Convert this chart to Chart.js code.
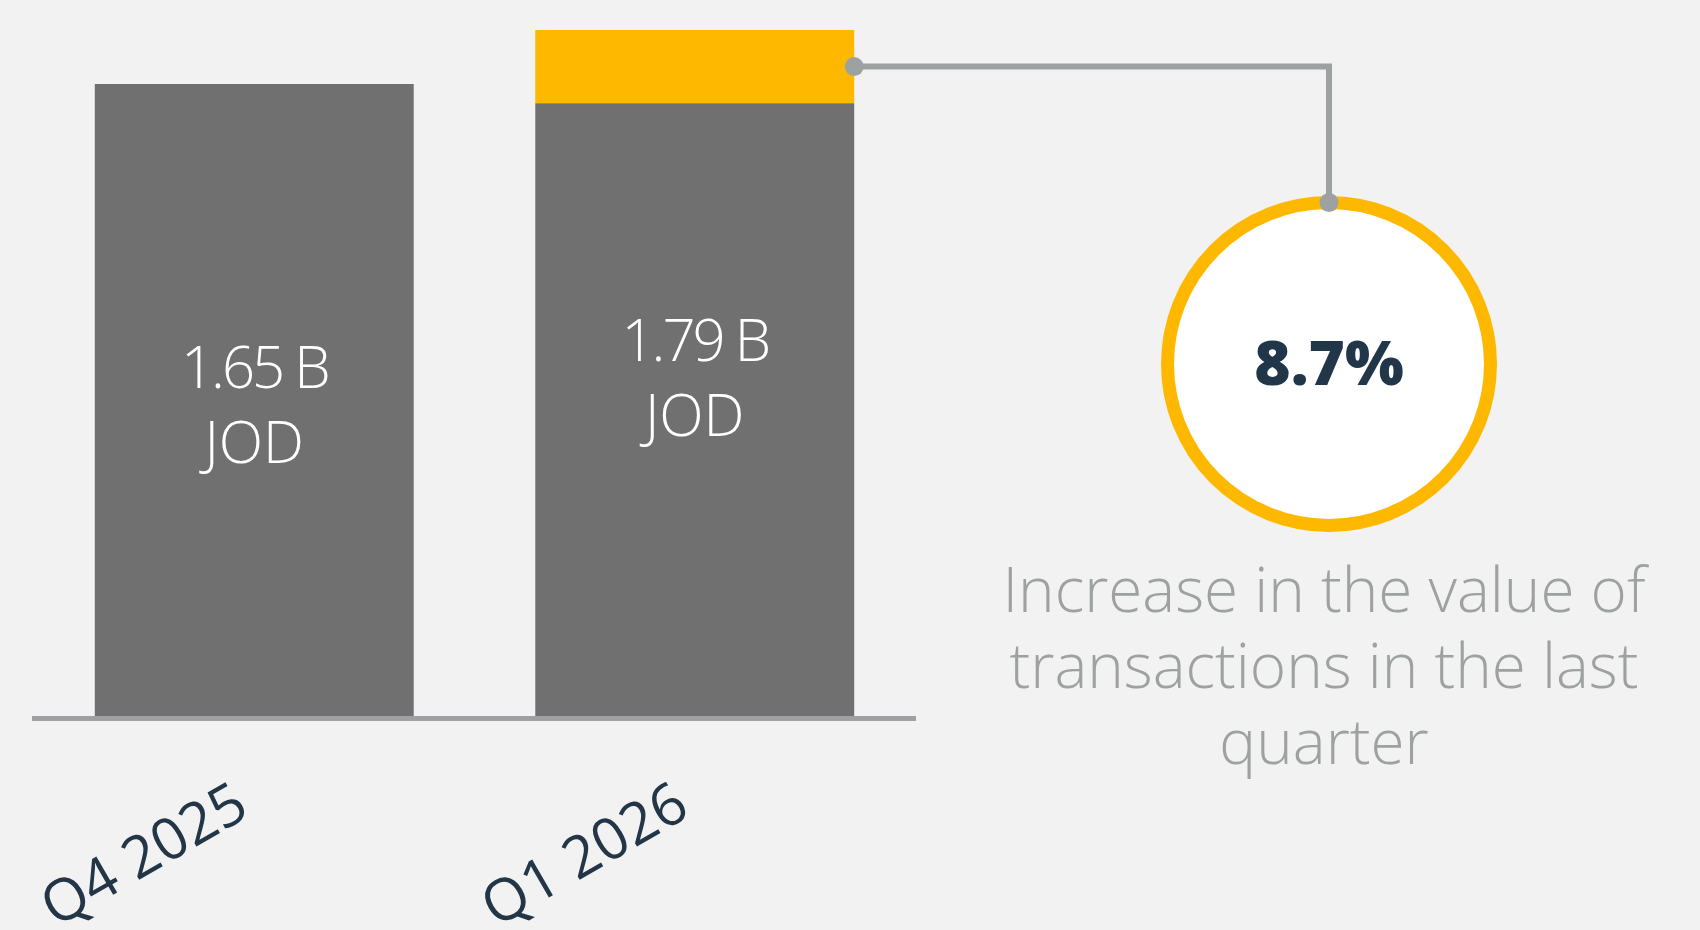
<!DOCTYPE html>
<html>
<head>
<meta charset="utf-8">
<script src="https://cdn.jsdelivr.net/npm/chart.js@4.4.1/dist/chart.umd.min.js"></script>
<style>
  html, body { margin: 0; padding: 0; background: #f2f2f2; }
  #wrap { position: relative; width: 1700px; height: 930px; overflow: hidden; }
  #chart { position: absolute; left: 0; top: 0; }
  .pct {
    position: absolute; left: 1229px; top: 330px; width: 200px;
    text-align: center; font: 800 62px/62px "Open Sans", sans-serif; color: #22364a;
  }
  .desc {
    position: absolute; left: 924px; top: 550px; width: 800px;
    text-align: center; font: 300 62px/76px "Open Sans", sans-serif; color: #9ea1a1;
  }
</style>
</head>
<body>
<div id="wrap">
  <canvas id="chart" width="1700" height="930"></canvas>
  <div class="pct" id="pct"></div>
  <div class="desc" id="desc"></div>
</div>
<script>
// values in billions of JOD
const quarters = ['Q4 2025', 'Q1 2026'];
const totals = [1.65, 1.79];
const baseValues = [1.65, 1.60];
const increaseValues = [0, 0.19];
const unit = 'JOD';
const increasePct = '8.7%';
const descLines = ['Increase in the value of', 'transactions in the last', 'quarter'];

document.getElementById('pct').textContent = increasePct;
document.getElementById('desc').innerHTML = descLines.join('<br>');

const GRAY = '#6f706f';
const YELLOW = '#ffb800';
const LINE = '#9ea1a1';

// circle badge (annotation, not data)
const badge = { x: 1329, y: 364, r: 161.5, ring: 13 };

const overlay = {
  id: 'overlay',
  afterDatasetsDraw(chart) {
    const ctx = chart.ctx;
    const baseMeta = chart.getDatasetMeta(0);
    const incMeta = chart.getDatasetMeta(1);
    const y = chart.scales.y;
    ctx.save();

    // value labels inside bars
    ctx.fillStyle = '#ffffff';
    ctx.font = '300 58px "Open Sans"';
    ctx.textAlign = 'center';
    ctx.textBaseline = 'alphabetic';
    totals.forEach((v, i) => {
      const bar = baseMeta.data[i];
      const mid = (y.getPixelForValue(v) + y.getPixelForValue(0)) / 2;
      ctx.letterSpacing = '-3px';
      ctx.fillText(v.toFixed(2) + ' B', bar.x, mid - 13);
      ctx.letterSpacing = '0px';
      ctx.fillText(unit, bar.x, mid + 62);
    });

    // badge
    ctx.beginPath();
    ctx.arc(badge.x, badge.y, badge.r, 0, Math.PI * 2);
    ctx.fillStyle = '#ffffff';
    ctx.fill();
    ctx.lineWidth = badge.ring;
    ctx.strokeStyle = YELLOW;
    ctx.stroke();

    // connector from the increase segment to the badge
    const seg = incMeta.data[1];
    const x0 = seg.x + seg.width / 2;
    const y0 = (seg.y + seg.base) / 2;
    const y1 = badge.y - badge.r;
    ctx.beginPath();
    ctx.moveTo(x0, y0);
    ctx.lineTo(badge.x, y0);
    ctx.lineTo(badge.x, y1);
    ctx.lineWidth = 6;
    ctx.strokeStyle = LINE;
    ctx.stroke();
    ctx.fillStyle = LINE;
    [[x0, y0], [badge.x, y1]].forEach(p => {
      ctx.beginPath();
      ctx.arc(p[0], p[1], 9.5, 0, Math.PI * 2);
      ctx.fill();
    });
    ctx.restore();
  }
};

new Chart(document.getElementById('chart').getContext('2d'), {
  type: 'bar',
  data: {
    labels: quarters,
    datasets: [
      { data: baseValues, backgroundColor: GRAY, stack: 's' },
      { data: increaseValues, backgroundColor: YELLOW, stack: 's' }
    ]
  },
  options: {
    responsive: false,
    animation: false,
    categoryPercentage: 1,
    barPercentage: 0.724,
    layout: { padding: { left: 34, right: 785, top: 7, bottom: 0 } },
    plugins: { legend: { display: false }, tooltip: { enabled: false } },
    scales: {
      x: {
        stacked: true,
        grid: { display: false },
        border: { display: true, color: LINE, width: 5, z: 1 },
        ticks: {
          color: '#233648',
          font: { family: 'Open Sans', size: 58 },
          minRotation: 30,
          maxRotation: 30,
          autoSkip: false,
          padding: 44,
          labelOffset: -11
        },
        afterFit: (s) => {
          s.height = 211.5;
          // labels may spill past the edges, keep the plot area fixed
          s.paddingLeft = 0;
          s.paddingRight = 0;
        }
      },
      y: { stacked: true, display: false, min: 0, max: 1.85 }
    }
  },
  plugins: [overlay]
});
</script>
</body>
</html>
